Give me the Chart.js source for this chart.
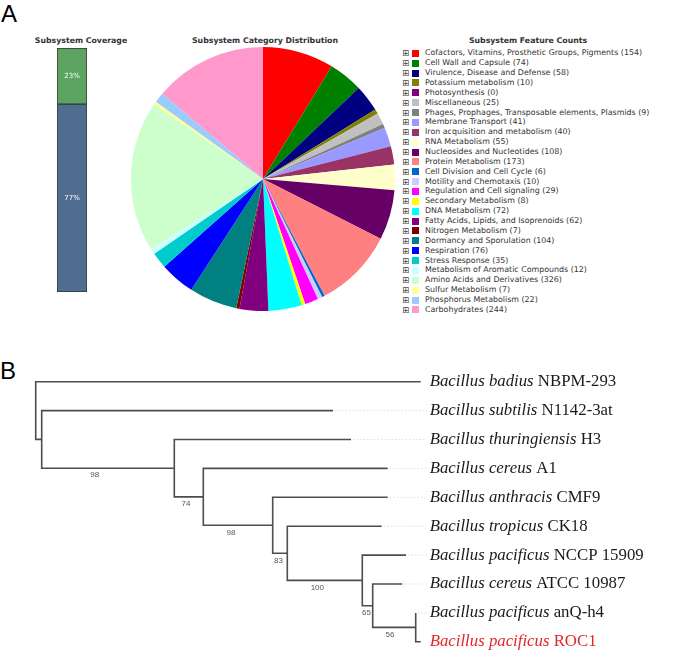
<!DOCTYPE html>
<html>
<head>
<meta charset="utf-8">
<script src="https://cdn.jsdelivr.net/npm/chart.js@4.4.0/dist/chart.umd.min.js"></script>
<style>
  body { margin: 0; width: 685px; height: 661px; position: relative; background: #fff; overflow: hidden; font-family: "DejaVu Sans", Verdana, sans-serif; }
  .abs { position: absolute; }
  .panel { font-family: "Liberation Sans", Arial, sans-serif; font-size: 24px; line-height: 1; color: #000; }
  .ttl { font-weight: bold; font-size: 7.8px; line-height: 1; color: #333; white-space: nowrap; transform: translate(-50%, -50%); }
  .row { position: absolute; left: 0; height: 10px; line-height: 10px; white-space: nowrap; font-size: 7.9px; color: #333; }
  .row .pb { position: absolute; left: 2px; top: 0; font-size: 8.5px; color: #444; }
  .row .sw { position: absolute; left: 12px; top: 1.5px; width: 7px; height: 7px; }
  .row .tx { position: absolute; left: 25px; top: 0; }
</style>
</head>
<body>
<div class="abs panel" style="left:1px;top:2px;">A</div>
<div class="abs panel" style="left:0px;top:359px;">B</div>

<div class="abs ttl" style="left:81px;top:41px;">Subsystem Coverage</div>
<div class="abs ttl" style="left:265px;top:41px;">Subsystem Category Distribution</div>
<div class="abs ttl" style="left:528px;top:41px;">Subsystem Feature Counts</div>

<canvas id="coverageChart" class="abs" width="32" height="246" style="left:56px;top:47px;"></canvas>
<canvas id="pieChart" class="abs" width="268" height="268" style="left:129px;top:45px;"></canvas>
<div id="legend" class="abs" style="left:400px;top:0;width:285px;height:330px;"></div>
<canvas id="treeChart" class="abs" width="685" height="321" style="left:0;top:340px;"></canvas>

<script>
// サブシステムのカバー率 (%)
const coverageLabels = ["In Subsystem", "Not in Subsystem"];
const coverageValues = [23, 77];
const coverageColors = ["#5da462", "#4f6d8f"];

// カテゴリ別の特徴数
const categories = [
  "Cofactors, Vitamins, Prosthetic Groups, Pigments",
  "Cell Wall and Capsule",
  "Virulence, Disease and Defense",
  "Potassium metabolism",
  "Photosynthesis",
  "Miscellaneous",
  "Phages, Prophages, Transposable elements, Plasmids",
  "Membrane Transport",
  "Iron acquisition and metabolism",
  "RNA Metabolism",
  "Nucleosides and Nucleotides",
  "Protein Metabolism",
  "Cell Division and Cell Cycle",
  "Motility and Chemotaxis",
  "Regulation and Cell signaling",
  "Secondary Metabolism",
  "DNA Metabolism",
  "Fatty Acids, Lipids, and Isoprenoids",
  "Nitrogen Metabolism",
  "Dormancy and Sporulation",
  "Respiration",
  "Stress Response",
  "Metabolism of Aromatic Compounds",
  "Amino Acids and Derivatives",
  "Sulfur Metabolism",
  "Phosphorus Metabolism",
  "Carbohydrates"
];
const featureCounts = [154, 74, 58, 10, 0, 25, 9, 41, 40, 55, 108, 173, 6, 10, 29, 8, 72, 62, 7, 104, 76, 35, 12, 326, 7, 22, 244];
const categoryColors = [
  "#ff0000", "#008000", "#000080", "#808000", "#800080", "#c0c0c0", "#808080",
  "#9999ff", "#993366", "#ffffcc", "#660066", "#ff8080", "#0066cc", "#ccccff",
  "#ff00ff", "#ffff00", "#00ffff", "#800080", "#800000", "#008080", "#0000ff",
  "#00cccc", "#ccffff", "#ccffcc", "#ffff99", "#99ccff", "#ff99cc"
];

// 系統樹
const leafGenus = ["Bacillus badius", "Bacillus subtilis", "Bacillus thuringiensis", "Bacillus cereus", "Bacillus anthracis",
  "Bacillus tropicus", "Bacillus pacificus", "Bacillus cereus", "Bacillus pacificus", "Bacillus pacificus"];
const leafStrain = ["NBPM-293", "N1142-3at", "H3", "A1", "CMF9", "CK18", "NCCP 15909", "ATCC 10987", "anQ-h4", "ROC1"];
const tipDepth = [385, 297.3, 315.3, 352, 352, 346, 370.3, 366.6, 380, 385];
const nodeDepth = [0, 6, 138.6, 167.6, 237, 251.6, 326.6, 337, 380];
const nodeKids = [["L0", "N1"], ["L1", "N2"], ["L2", "N3"], ["L3", "N4"], ["L4", "N5"], ["L5", "N6"], ["L6", "N7"], ["L7", "N8"], ["L8", "L9"]];
const bootstrap = [null, null, 98, 74, 98, 83, 100, 65, 56];
const highlightLeaf = 9;

// カバー率の棒グラフ
const pctLabels = {
  id: "pctLabels",
  afterDatasetsDraw(chart) {
    const ctx = chart.ctx;
    ctx.save();
    ctx.fillStyle = "#fff";
    ctx.font = "7px 'DejaVu Sans'";
    ctx.textAlign = "center";
    ctx.textBaseline = "middle";
    chart.data.datasets.forEach((ds, i) => {
      const bar = chart.getDatasetMeta(i).data[0];
      const p = bar.getCenterPoint();
      ctx.fillText(ds.data[0] + "%", p.x, p.y);
    });
    ctx.restore();
  }
};

new Chart(document.getElementById("coverageChart"), {
  type: "bar",
  data: {
    labels: ["Coverage"],
    datasets: [
      { label: coverageLabels[1], data: [coverageValues[1]], backgroundColor: coverageColors[1] },
      { label: coverageLabels[0], data: [coverageValues[0]], backgroundColor: coverageColors[0] }
    ].map(d => Object.assign(d, { borderColor: "#333", borderWidth: 1, borderSkipped: false, barPercentage: 1, categoryPercentage: 1 }))
  },
  options: {
    responsive: false,
    animation: false,
    layout: { padding: 1 },
    plugins: { legend: { display: false }, tooltip: { enabled: false } },
    scales: {
      x: { stacked: true, display: false },
      y: { stacked: true, display: false, min: 0, max: 100 }
    }
  },
  plugins: [pctLabels]
});

// 円グラフ
new Chart(document.getElementById("pieChart"), {
  type: "pie",
  data: {
    labels: categories,
    datasets: [{ data: featureCounts, backgroundColor: categoryColors, borderWidth: 0 }]
  },
  options: {
    responsive: false,
    animation: false,
    layout: { padding: 2 },
    plugins: { legend: { display: false }, tooltip: { enabled: false } }
  }
});

// 凡例
const legendDiv = document.getElementById("legend");
categories.forEach((name, i) => {
  const row = document.createElement("div");
  row.className = "row";
  row.style.top = (48.3 + i * 9.87) + "px";
  row.innerHTML = '<span class="pb">\u229e</span><span class="sw" style="background:' + categoryColors[i] + '"></span>' +
    '<span class="tx">' + name + " (" + featureCounts[i] + ")</span>";
  legendDiv.appendChild(row);
});

// 系統樹の座標計算
function posOf(id) {
  const k = parseInt(id.slice(1));
  if (id[0] === "L") return { x: tipDepth[k], y: k };
  const a = posOf(nodeKids[k][0]);
  const b = posOf(nodeKids[k][1]);
  return { x: nodeDepth[k], y: (a.y + b.y) / 2 };
}

const treeSets = [];
nodeKids.forEach((kids, k) => {
  const a = posOf(kids[0]);
  const b = posOf(kids[1]);
  treeSets.push({
    data: [{ x: a.x, y: a.y }, { x: nodeDepth[k], y: a.y }, { x: nodeDepth[k], y: b.y }, { x: b.x, y: b.y }],
    borderColor: "#4d4d4d", borderWidth: 1.6
  });
});
const maxTip = Math.max(...tipDepth);
tipDepth.forEach((t, i) => {
  if (t >= maxTip) return;
  treeSets.push({
    data: [{ x: t + 2, y: i }, { x: maxTip + 6, y: i }],
    borderColor: "#d8d8d8", borderWidth: 0.8, borderDash: [1.5, 2]
  });
});
treeSets.forEach(d => Object.assign(d, { showLine: true, pointRadius: 0, fill: false, tension: 0 }));

const treeLabels = {
  id: "treeLabels",
  afterDraw(chart) {
    const ctx = chart.ctx;
    const xs = chart.scales.x, ys = chart.scales.y;
    ctx.save();
    ctx.textBaseline = "middle";
    const lx = xs.getPixelForValue(maxTip) + 9;
    leafGenus.forEach((g, i) => {
      const y = ys.getPixelForValue(i);
      ctx.fillStyle = i === highlightLeaf ? "#e3262b" : "#1a1a1a";
      ctx.font = "italic 16.8px 'Liberation Serif'";
      ctx.fillText(g, lx, y);
      const w = ctx.measureText(g + " ").width;
      ctx.font = "16.8px 'Liberation Serif'";
      ctx.fillText(leafStrain[i], lx + w, y);
    });
    ctx.fillStyle = "#555";
    ctx.font = "8px 'Liberation Sans'";
    ctx.textAlign = "center";
    nodeKids.forEach((kids, k) => {
      kids.forEach(id => {
        if (id[0] !== "N") return;
        const c = parseInt(id.slice(1));
        if (bootstrap[c] == null) return;
        const p = posOf(id);
        const x = xs.getPixelForValue(nodeDepth[k] + 0.4 * (p.x - nodeDepth[k]));
        ctx.fillText(String(bootstrap[c]), x, ys.getPixelForValue(p.y) + 7);
      });
    });
    ctx.restore();
  }
};

new Chart(document.getElementById("treeChart"), {
  type: "scatter",
  data: { datasets: treeSets },
  options: {
    responsive: false,
    animation: false,
    layout: { padding: 0 },
    plugins: { legend: { display: false }, tooltip: { enabled: false } },
    scales: {
      x: { type: "linear", display: false, min: -35.7, max: 649.3 },
      y: { type: "linear", display: false, reverse: true, min: -1.443, max: 9.664 }
    }
  },
  plugins: [treeLabels]
});
</script>
</body>
</html>
